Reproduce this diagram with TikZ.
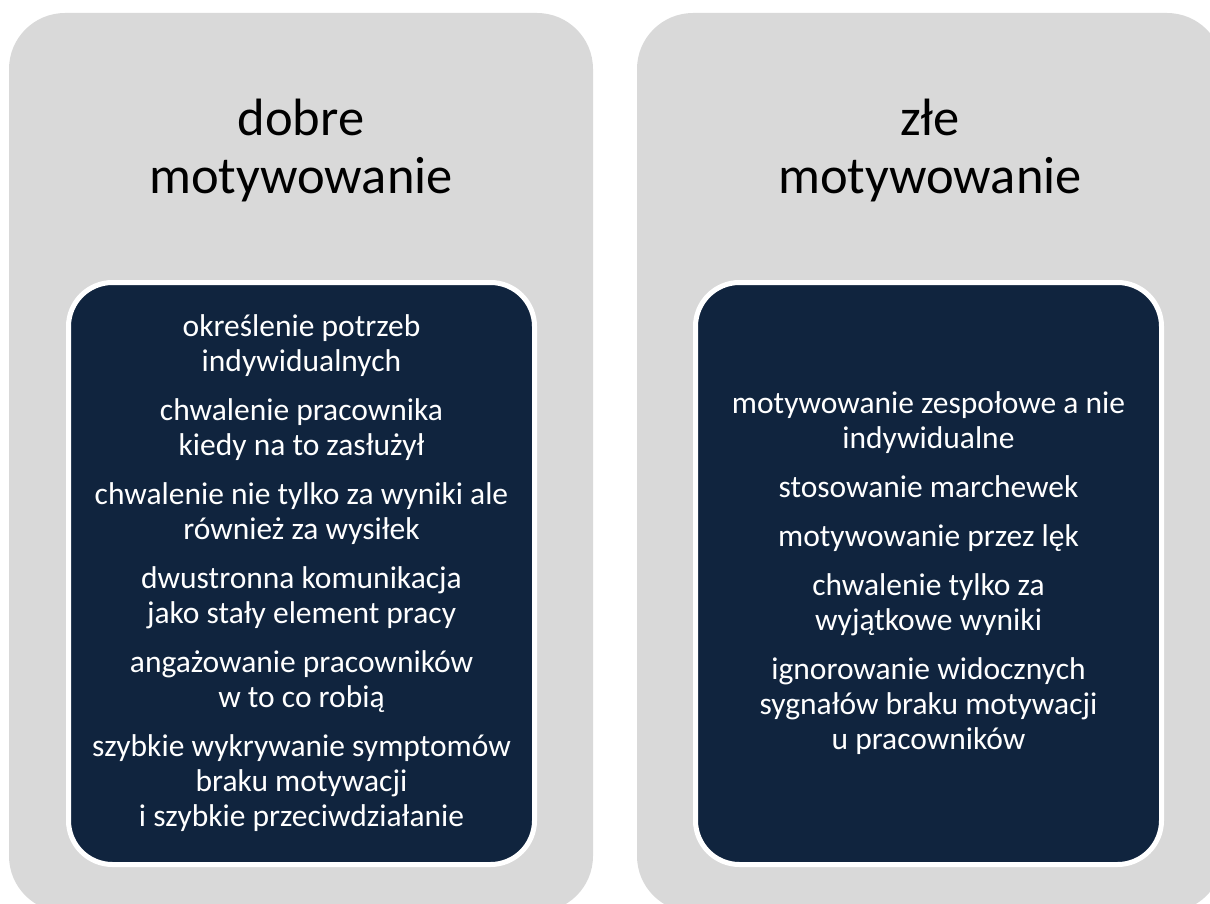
\documentclass[tikz,border=0pt]{standalone}
\usepackage{fontspec}
\setmainfont{Carlito}
\definecolor{panelgray}{HTML}{D9D9D9}
\definecolor{navy}{HTML}{10243E}
\begin{document}
\begin{tikzpicture}[x=1pt,y=-1pt]
	\tikzstyle{panel} = [fill=panelgray, rounded corners=56pt]
	\tikzstyle{listbox} = [draw=white, line width=5pt, fill=navy, rounded corners=44pt, text=white, align=center, minimum width=466pt, minimum height=582pt, font=\fontsize{31.5}{35}\selectfont]
	\tikzstyle{title} = [text=black, align=center, font=\fontsize{52.5}{58}\selectfont]

	\useasboundingbox (0,0) rectangle (1210,904);
	\clip (0,0) rectangle (1210,904);

	% grey panels, cut off at the bottom
	\fill[panel] (9,13) rectangle (593,912);
	\fill[panel] (637,13) rectangle (1223,912);

	\node[title] (goodtitle) at (301,151) {dobre\\motywowanie};
	\node[title] (badtitle) at (930,151) {złe\\motywowanie};

	\node[listbox] (goodlist) at (301.5,573.5) {%
		określenie potrzeb\\indywidualnych\\[14pt]
		chwalenie pracownika\\kiedy na to zasłużył\\[14pt]
		chwalenie nie tylko za wyniki ale\\również za wysiłek\\[14pt]
		dwustronna komunikacja\\jako stały element pracy\\[14pt]
		angażowanie pracowników\\w to co robią\\[14pt]
		szybkie wykrywanie symptomów\\braku motywacji\\i szybkie przeciwdziałanie};
	\node[listbox] (badlist) at (928.5,573.5) {%
		motywowanie zespołowe a nie\\indywidualne\\[14pt]
		stosowanie marchewek\\[14pt]
		motywowanie przez lęk\\[14pt]
		chwalenie tylko za\\wyjątkowe wyniki\\[14pt]
		ignorowanie widocznych\\sygnałów braku motywacji\\u pracowników};

\end{tikzpicture}
\end{document}
